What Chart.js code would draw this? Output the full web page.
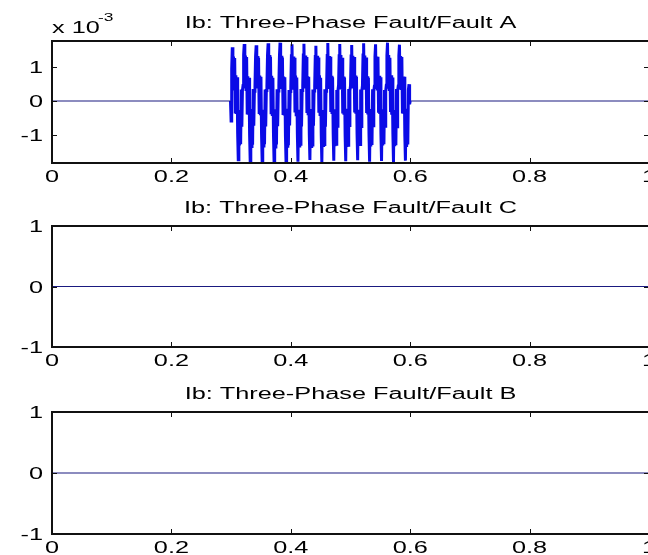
<!DOCTYPE html>
<html>
<head>
<meta charset="utf-8">
<script src="https://cdn.jsdelivr.net/npm/chart.js@4.4.1/dist/chart.umd.min.js"></script>
<style>
  html, body { margin: 0; padding: 0; background: #fff; overflow: hidden; }
  body { width: 648px; height: 555px; position: relative; }
  canvas { position: absolute; left: 0; }
</style>
</head>
<body>
<canvas id="panel-a" width="660" height="185" style="top:0px"></canvas>
<canvas id="panel-c" width="660" height="185" style="top:185px"></canvas>
<canvas id="panel-b" width="660" height="185" style="top:370px"></canvas>
<script>
// Ib fault currents — three stacked MATLAB-style panels

const xTicks = [0, 0.2, 0.4, 0.6, 0.8, 1];
const xTickLabels = ["0", "0.2", "0.4", "0.6", "0.8", "1"];
const yTicks = [-1, 0, 1];
const yTickLabels = ["-1", "0", "1"];

const titleA = "Ib: Three-Phase Fault/Fault A";
const titleC = "Ib: Three-Phase Fault/Fault C";
const titleB = "Ib: Three-Phase Fault/Fault B";

// flat parts (time in s, current in units of 1e-3)
const flatTimesPre = [0, 0.299];
const flatTimesPost = [0.6, 1];
const flatZero = [0, 0];
const flatTimesFull = [0, 1];

// Fault A waveform, sampled every 1 ms from t = 0.299 s (values x 10^-3)
const faultStart = 0.299;
const faultStep = 0.001;
const faultA = [
  0,
  -0.60, 0.95, 1.60, 0.40, 1.33, 0.36, 1.28, -0.33, 0.77, -0.39, 0.71, -0.98, -1.75, -0.27, -1.33, -0.31, -1.29, 0.34, -0.77, 0.32,
  0.46, 1.37, 1.70, 0.38, 1.36, 0.34, 1.31, -0.36, 0.74, -0.41, 0.69, -1.01, -1.80, -0.24, -1.36, -0.29, -1.31, 0.36, -0.74, 0.29,
  0.44, 1.33, 1.66, 0.41, 1.34, 0.37, 1.29, -0.34, 0.76, -0.38, 0.72, -0.99, -1.78, -0.26, -1.34, -0.31, -1.29, 0.34, -0.76, 0.31,
  0.45, 1.36, 1.72, 0.39, 1.37, 0.35, 1.32, -0.35, 0.75, -0.40, 0.69, -1.00, -1.83, -0.25, -1.37, -0.28, -1.30, 0.35, -0.75, 0.30,
  0.47, 1.34, 1.74, 0.40, 1.35, 0.36, 1.30, -0.37, 0.73, -0.39, 0.71, -1.02, -1.79, -0.23, -1.35, -0.30, -1.32, 0.33, -0.73, 0.28,
  0.43, 1.35, 1.69, 0.42, 1.33, 0.34, 1.29, -0.34, 0.76, -0.41, 0.70, -0.99, -1.81, -0.26, -1.34, -0.31, -1.29, 0.36, -0.76, 0.31,
  0.46, 1.37, 1.71, 0.38, 1.36, 0.37, 1.31, -0.36, 0.74, -0.38, 0.72, -1.01, -1.76, -0.24, -1.36, -0.29, -1.31, 0.34, -0.74, 0.30,
  0.45, 1.33, 1.65, 0.40, 1.35, 0.35, 1.30, -0.35, 0.77, -0.40, 0.69, -1.00, -1.82, -0.27, -1.33, -0.30, -1.30, 0.35, -0.77, 0.29,
  0.44, 1.36, 1.73, 0.41, 1.34, 0.36, 1.32, -0.33, 0.75, -0.39, 0.71, -0.98, -1.78, -0.25, -1.35, -0.28, -1.29, 0.33, -0.75, 0.32,
  0.47, 1.35, 1.70, 0.39, 1.37, 0.34, 1.29, -0.37, 0.73, -0.41, 0.70, -1.02, -1.80, -0.23, -1.37, -0.31, -1.32, 0.36, -0.73, 0.30,
  0.45, 1.34, 1.67, 0.42, 1.35, 0.37, 1.31, -0.34, 0.76, -0.38, 0.72, -0.99, -1.77, -0.26, -1.34, -0.29, -1.30, 0.34, -0.76, 0.31,
  0.46, 1.37, 1.72, 0.38, 1.36, 0.35, 1.30, -0.36, 0.74, -0.40, 0.69, -1.01, -1.81, -0.24, -1.36, -0.30, -1.31, 0.35, -0.74, 0.28,
  0.44, 1.33, 1.69, 0.40, 1.33, 0.36, 1.32, -0.35, 0.75, -0.39, 0.71, -1.00, -1.79, -0.25, -1.33, -0.31, -1.29, 0.33, -0.75, 0.30,
  0.47, 1.36, 1.74, 0.41, 1.37, 0.34, 1.29, -0.33, 0.77, -0.41, 0.70, -0.98, -1.82, -0.27, -1.35, -0.28, -1.32, 0.36, -0.77, 0.32,
  0.45, 1.35, 1.68, 0.39, 1.34, 0.37, 1.31, -0.37, 0.73, -0.38, 0.72, -1.02, -1.78, -0.23, -1.37, -0.30, -1.30, 0.34, 0.50, -0.10,
  0
];

const FONT = '16px "Liberation Sans", Arial, sans-serif';
const SUP_FONT = '11px "Liberation Sans", Arial, sans-serif';
const STRETCH = 1.58; // the reference text is drawn wide
const FLAT_COLOR = "#1a1a80";
const WAVE_COLOR = "#0a0ae6";

function pts(times, vals) {
  return vals.map((v, i) => ({ x: times[i], y: v }));
}

function sampled(start, step, vals) {
  return vals.map((v, i) => ({ x: +(start + i * step).toFixed(4), y: v }));
}

function wideText(ctx, text, x, y, align) {
  ctx.save();
  ctx.translate(x, y);
  ctx.scale(STRETCH, 1);
  ctx.textAlign = align;
  ctx.textBaseline = "alphabetic";
  ctx.fillText(text, 0, 0);
  ctx.restore();
}

// frame, inward ticks, labels and title the way MATLAB draws them
const matlabAxes = {
  id: "matlabAxes",
  afterDraw(chart) {
    const o = chart.options.plugins.matlabAxes;
    const { ctx, chartArea: a } = chart;
    const xs = chart.scales.x, ys = chart.scales.y;
    const tick = 5;
    const L = Math.round(a.left), R = Math.round(a.right);
    const T = Math.round(a.top), B = Math.round(a.bottom);

    ctx.save();
    ctx.fillStyle = "#000";
    ctx.font = FONT;
    xTicks.forEach((v, i) => {
      wideText(ctx, xTickLabels[i], xs.getPixelForValue(v), B + 19, "center");
    });
    yTicks.forEach((v, i) => {
      wideText(ctx, yTickLabels[i], 43, ys.getPixelForValue(v) + 6, "right");
    });
    wideText(ctx, o.title, (a.left + a.right) / 2, T - 13, "center");
    if (o.exponent) {
      wideText(ctx, "x 10", L, T - 8, "left");
      ctx.font = SUP_FONT;
      wideText(ctx, o.exponent, L + 46, T - 20, "left");
    }

    // box
    ctx.fillStyle = "#111";
    ctx.fillRect(L - 1, T - 1, 2, B - T + 2);
    ctx.fillRect(R - 1, T - 1, 2, B - T + 2);
    ctx.fillRect(L - 1, T - 1, R - L + 2, 2);
    ctx.fillRect(L - 1, B - 1, R - L + 2, 2);

    // inward ticks on all four sides
    xTicks.forEach(v => {
      const px = Math.round(xs.getPixelForValue(v));
      ctx.fillRect(px, B - tick, 1, tick);
      ctx.fillRect(px, T, 1, tick);
    });
    yTicks.forEach(v => {
      const py = Math.round(ys.getPixelForValue(v));
      ctx.fillRect(L, py, tick, 1);
      ctx.fillRect(R - tick, py, tick, 1);
    });
    ctx.restore();
  }
};

function makePanel(id, opts) {
  return new Chart(document.getElementById(id), {
    type: "line",
    data: { datasets: opts.datasets },
    options: {
      responsive: false,
      animation: false,
      devicePixelRatio: 1,
      parsing: false,
      layout: { padding: { top: opts.top, right: 11, left: 0, bottom: 0 } },
      elements: { point: { radius: 0 }, line: { borderWidth: 1.2, tension: 0 } },
      plugins: {
        legend: { display: false },
        tooltip: { enabled: false },
        matlabAxes: { title: opts.title, exponent: opts.exponent }
      },
      scales: {
        x: {
          type: "linear", min: 0, max: 1,
          grid: { display: false }, border: { display: false },
          ticks: { display: false },
          afterBuildTicks: s => { s.ticks = xTicks.map(v => ({ value: v })); },
          afterFit: s => { s.height = opts.xHeight; }
        },
        y: {
          type: "linear", min: opts.yMin, max: opts.yMax,
          grid: { display: false }, border: { display: false },
          ticks: { display: false },
          afterBuildTicks: s => { s.ticks = yTicks.map(v => ({ value: v })); },
          afterFit: s => { s.width = 52; }
        }
      }
    },
    plugins: [matlabAxes]
  });
}

makePanel("panel-a", {
  title: titleA, exponent: "-3", top: 41, xHeight: 22, yMin: -1.85, yMax: 1.79,
  datasets: [
    { data: pts(flatTimesPre, flatZero), borderColor: FLAT_COLOR },
    { data: sampled(faultStart, faultStep, faultA), borderColor: WAVE_COLOR, borderWidth: 3 },
    { data: pts(flatTimesPost, flatZero), borderColor: FLAT_COLOR }
  ]
});

makePanel("panel-c", {
  title: titleC, top: 41, xHeight: 23, yMin: -1, yMax: 1,
  datasets: [{ data: pts(flatTimesFull, flatZero), borderColor: FLAT_COLOR }]
});

makePanel("panel-b", {
  title: titleB, top: 42, xHeight: 21, yMin: -1, yMax: 1,
  datasets: [{ data: pts(flatTimesFull, flatZero), borderColor: FLAT_COLOR }]
});
</script>
</body>
</html>
